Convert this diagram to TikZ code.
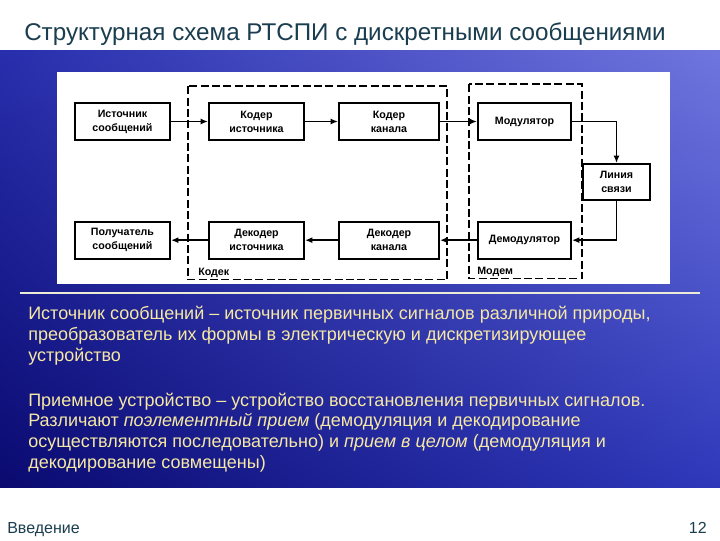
\documentclass[tikz,border=0pt]{standalone}
\usepackage{fontspec}
\setmainfont{Liberation Sans}
\usetikzlibrary{positioning, calc, arrows.meta, shadings}
\definecolor{titlecol}{RGB}{26,62,80}
\definecolor{txtcol}{RGB}{246,232,164}
\definecolor{rulecol}{RGB}{235,235,215}
\definecolor{bandUL}{RGB}{40,46,172}
\definecolor{bandUR}{RGB}{112,118,222}
\definecolor{bandLL}{RGB}{10,10,112}
\definecolor{bandLR}{RGB}{46,56,186}
\tikzset{block/.style={draw, line width=1.5pt, fill=white, minimum width=71.25pt, minimum height=27.5pt, inner sep=1pt, align=center, font=\bfseries\fontsize{8}{10.5}\selectfont},
line/.style={-{Latex[length=5.5pt,width=4.5pt]}, line width=1.2pt},
group/.style={draw, line width=1.2pt, dash pattern=on 6pt off 2.5pt},
grouplabel/.style={anchor=base west, inner sep=0pt, font=\bfseries\fontsize{8}{10}\selectfont},
bodytext/.style={anchor=base west, align=left, inner sep=0pt, text=txtcol, font=\fontsize{13.5}{15.4}\selectfont}
}
\begin{document}
\begin{tikzpicture}[x=0.75pt, y=-0.75pt]
\useasboundingbox (0,0) rectangle (720,540);
\fill[white] (0,0) rectangle (720,540);
\shade[upper left=bandUL, upper right=bandUR, lower left=bandLL, lower right=bandLR] (0,50) rectangle (720,487);
\fill[white] (57,72) rectangle (670,284);
\node[anchor=base west, inner sep=0pt, text=titlecol, font=\fontsize{18.15}{22}\selectfont] (title) at (24,40) {Структурная схема РТСПИ с дискретными сообщениями};
% upper row of blocks
\node[block] (src) at (122.5,121.5) {Источник\\сообщений};
\node[block, right=27.75pt of src] (ksrc) {Кодер\\источника};
\node[block, right=24.75pt of ksrc, minimum width=75pt] (kch) {Кодер\\канала};
\node[block, right=27.75pt of kch, minimum width=69.75pt] (mod) {Модулятор};
\node[block, minimum width=50pt, minimum height=27pt] (link) at (616.5,182) {Линия\\связи};
% lower row of blocks
\node[block, below=60pt of src] (rcv) {Получатель\\сообщений};
\node[block, below=60pt of ksrc] (dsrc) {Декодер\\источника};
\node[block, below=60pt of kch, minimum width=75pt] (dch) {Декодер\\канала};
\node[block, below=60pt of mod, minimum width=69.75pt] (demod) {Демодулятор};
% dashed groups
\coordinate (cdA) at ($(ksrc.north west)+(-20,-16)$);
\coordinate (cdB) at ($(dch.south east)+(7,20)$);
\draw[group] (cdA) rectangle (cdB);
\node[grouplabel] (cdlab) at ($(cdA |- cdB)+(10,-4)$) {Кодек};
\coordinate (mdA) at ($(mod.north west)+(-8,-18)$);
\coordinate (mdB) at ($(demod.south east)+(10,19)$);
\draw[group] (mdA) rectangle (mdB);
\node[grouplabel] (mdlab) at ($(mdA |- mdB)+(8,-4)$) {Модем};
% connectors
\draw[line] (src) -- (ksrc);
\draw[line] (ksrc) -- (kch);
\draw[line] (kch) -- (mod);
\draw[line] (mod) -| (link);
\draw[line] (link) |- (demod);
\draw[line] (demod) -- (dch);
\draw[line] (dch) -- (dsrc);
\draw[line] (dsrc) -- (rcv);
% text below the scheme (base = last line)
\draw[rulecol, line width=0.8pt] (20,293) -- (700,293);
\node[bodytext] (p1) at (28,361) {Источник сообщений – источник первичных сигналов различной природы,\\преобразователь их формы в электрическую и дискретизирующее\\устройство};
\node[bodytext] (p2) at (28,468) {Приемное устройство – устройство восстановления первичных сигналов.\\Различают \textit{поэлементный прием} (демодуляция и декодирование\\осуществляются последовательно) и \textit{прием в целом} (демодуляция и\\декодирование совмещены)};
\node[anchor=base west, inner sep=0pt, text=titlecol, font=\fontsize{12}{14}\selectfont] (foot) at (7,533) {Введение};
\node[anchor=base east, inner sep=0pt, text=titlecol, font=\fontsize{12}{14}\selectfont] (page) at (707,533) {12};
\end{tikzpicture}
\end{document}
